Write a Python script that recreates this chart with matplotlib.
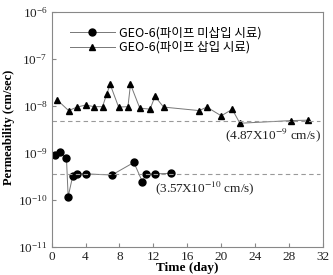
import matplotlib
matplotlib.use('Agg')
import matplotlib.pyplot as plt

plt.rcParams['font.family'] = ['Liberation Serif', 'DejaVu Serif']
plt.rcParams['mathtext.fontset'] = 'stix'

# GEO-6 without pipe (circles)
days_a = [0.4, 1.0, 1.75, 1.95, 2.5, 3.0, 4.0, 7.1, 9.7, 10.7, 11.1, 12.2, 14.1]
perm_a = [0.9e-9, 1.03e-9, 0.78e-9, 1.18e-10, 3.3e-10, 3.6e-10, 3.6e-10,
          3.4e-10, 6.3e-10, 2.45e-10, 3.5e-10, 3.6e-10, 3.7e-10]
# GEO-6 with pipe (triangles)
days_b = [0.66, 2.0, 3.0, 4.0, 5.0, 6.0, 6.5, 6.9, 7.9, 9.0, 9.3, 10.4, 11.6,
          12.2, 13.2, 17.4, 18.3, 20.0, 21.3, 22.2, 28.2, 30.2]
perm_b = [1.35e-8, 0.8e-8, 0.95e-8, 1.05e-8, 0.97e-8, 0.97e-8, 1.8e-8, 2.9e-8,
          0.95e-8, 0.97e-8, 2.9e-8, 0.9e-8, 0.86e-8, 1.6e-8, 0.95e-8, 0.8e-8,
          0.95e-8, 0.62e-8, 0.85e-8, 0.43e-8, 0.49e-8, 0.5e-8]
mean_a = 3.57e-10
mean_b = 4.87e-9
labels = ['GEO-6(파이프 미삽입 시료)', 'GEO-6(파이프 삽입 시료)']
xticks = [0, 4, 8, 12, 16, 20, 24, 28, 32]

fig = plt.figure(figsize=(3.33, 2.75), dpi=100)
ax = fig.add_axes([0.155, 0.102, 0.815, 0.854])

ax.plot(days_a, perm_a, color='#777777', lw=0.7, marker='o', ms=5,
        mfc='black', mec='black', label=labels[0])
ax.plot(days_b, perm_b, color='#777777', lw=0.7, marker='^', ms=4.5,
        mfc='black', mec='black', label=labels[1])
ax.axhline(mean_a, xmax=0.99, color='#999999', lw=0.8, ls=(0, (4, 3)))
ax.axhline(mean_b, xmax=0.99, color='#999999', lw=0.8, ls=(0, (4, 3)))

ax.text(31.8, 2.0e-9, '(4.87X10$^{-9}$ cm/s)', ha='right', va='baseline',
        fontsize=9.5, color='#222222')
ax.text(12.15, 1.46e-10, '(3.57X10$^{-10}$ cm/s)', ha='left', va='baseline',
        fontsize=9.5, color='#222222')

ax.set_yscale('log')
ax.set_ylim(1e-11, 1e-6)
ax.set_xlim(0, 32)
ax.set_xticks(xticks)
ax.minorticks_off()
ax.tick_params(direction='in', labelsize=9.5, length=3, color='#888888',
               labelcolor='#222222', pad=3)
for s in ax.spines.values():
    s.set_color('#888888')
    s.set_linewidth(0.8)

ax.set_xlabel('Time (day)', fontsize=9.5, fontweight='bold', labelpad=-1)
ax.set_ylabel('Permeability (cm/sec)', fontsize=9, fontweight='bold', labelpad=3)
ax.yaxis.set_label_coords(-0.135, 0.51)

leg = ax.legend(loc='upper left', bbox_to_anchor=(0.035, 0.975), frameon=False,
                prop={'family': ['Noto Sans CJK KR', 'DejaVu Sans'], 'size': 9},
                handlelength=3.6, handletextpad=0.3, labelspacing=0.1, borderpad=0.2)

fig.savefig('out.png', dpi=100)
